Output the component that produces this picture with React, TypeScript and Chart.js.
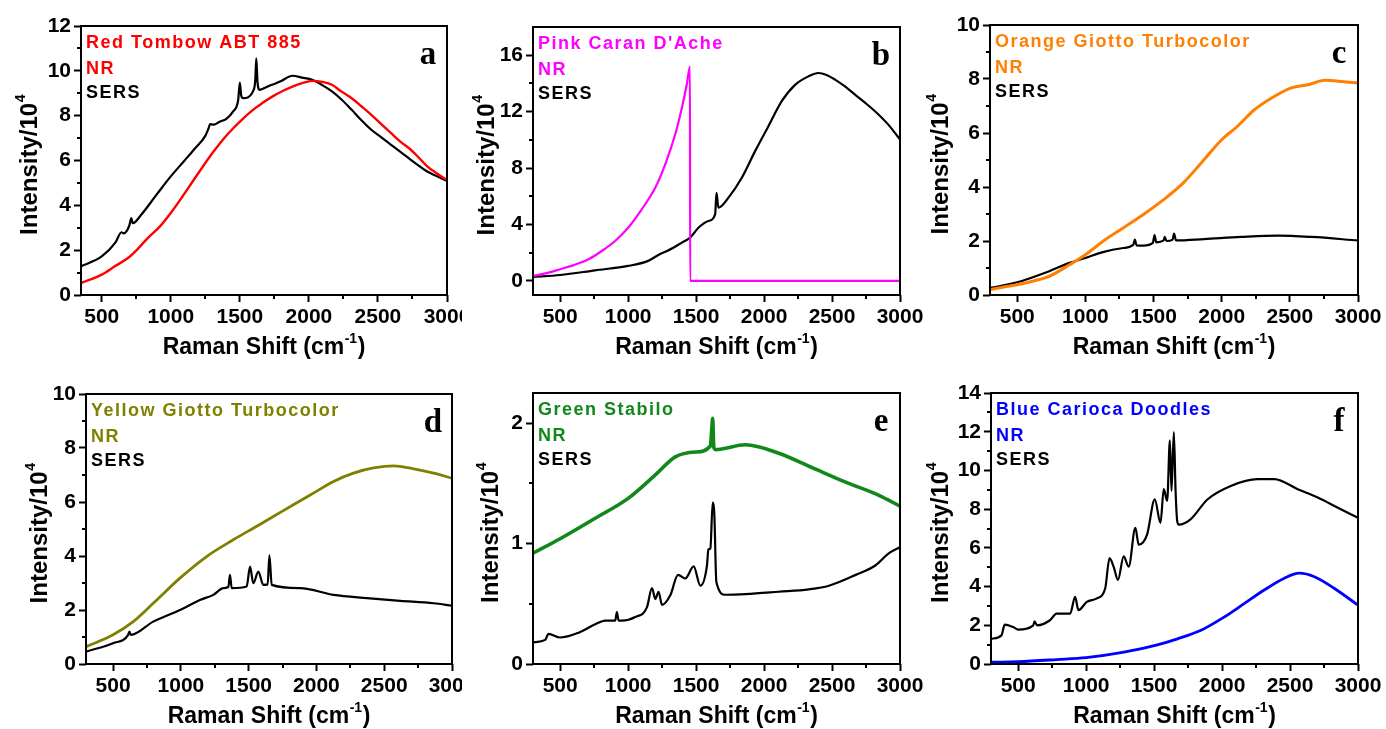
import React, { useEffect, useRef } from "react";
import { Chart, registerables } from "chart.js";

Chart.register(...registerables);

type Pt = [number, number];

// ---------------- tick values ----------------
const X_MAJOR = [500, 1000, 1500, 2000, 2500, 3000];
const X_MINOR = [750, 1250, 1750, 2250, 2750];
const Y12_MAJOR = [0, 2, 4, 6, 8, 10, 12];
const Y12_MINOR = [1, 3, 5, 7, 9, 11];
const Y16_MAJOR = [0, 4, 8, 12, 16];
const Y16_MINOR = [2, 6, 10, 14];
const Y10_MAJOR = [0, 2, 4, 6, 8, 10];
const Y10_MINOR = [1, 3, 5, 7, 9];
const Y2_MAJOR = [0, 1, 2];
const Y2_MINOR = [0.5, 1.5];
const Y14_MAJOR = [0, 2, 4, 6, 8, 10, 12, 14];
const Y14_MINOR = [1, 3, 5, 7, 9, 11, 13];

// ---------------- labels ----------------
const PANEL_LETTERS = ["a", "b", "c", "d", "e", "f"];
const SAMPLE_NAMES = [
  "Red Tombow ABT 885",
  "Pink Caran D'Ache",
  "Orange Giotto Turbocolor",
  "Yellow Giotto Turbocolor",
  "Green Stabilo",
  "Blue Carioca Doodles",
];
const NR_LABEL = "NR";
const SERS_LABEL = "SERS";

// ---------------- series (Raman shift cm-1, intensity/10^4) ----------------
const A_NR: Pt[] = [
  [350, 0.53], [500, 0.91], [600, 1.3], [690, 1.65], [760, 2.05], [833, 2.54], [920, 3.05],
  [1000, 3.66], [1080, 4.35], [1167, 5.14], [1240, 5.8], [1310, 6.4], [1380, 6.95],
  [1452, 7.44], [1520, 7.85], [1595, 8.26], [1660, 8.55], [1738, 8.86], [1810, 9.1],
  [1881, 9.3], [1950, 9.45], [2024, 9.55], [2100, 9.5], [2167, 9.38], [2230, 9.1],
  [2310, 8.78], [2380, 8.42], [2452, 8.04], [2520, 7.65], [2595, 7.22], [2660, 6.85],
  [2738, 6.48], [2800, 6.1], [2857, 5.74], [2920, 5.45], [3000, 5.12],
];
const A_SERS: Pt[] = [
  [350, 1.28], [500, 1.72], [600, 2.35], [643, 2.8], [660, 2.75], [700, 3.1], [714, 3.43],
  [725, 3.2], [786, 3.58], [900, 4.5], [1000, 5.29], [1100, 6.0], [1167, 6.48], [1250, 7.1],
  [1274, 7.44], [1285, 7.62], [1310, 7.6], [1357, 7.74], [1400, 7.85], [1452, 8.19],
  [1488, 8.7], [1500, 9.48], [1510, 8.9], [1524, 8.78], [1600, 9.15], [1612, 9.6],
  [1619, 10.56], [1628, 9.5], [1643, 9.15], [1690, 9.27], [1800, 9.55], [1881, 9.78],
  [1950, 9.7], [2024, 9.6], [2100, 9.35], [2167, 9.08], [2240, 8.7], [2310, 8.26],
  [2380, 7.8], [2452, 7.37], [2520, 7.05], [2595, 6.7], [2670, 6.35], [2738, 6.03],
  [2800, 5.75], [2857, 5.51], [2920, 5.32], [3000, 5.08],
];
const B_NR: Pt[] = [
  [300, 0.35], [400, 0.55], [500, 0.83], [600, 1.12], [708, 1.53], [806, 2.12], [904, 2.83],
  [1000, 3.77], [1100, 5.07], [1199, 6.6], [1272, 8.25], [1346, 10.38], [1395, 12.26],
  [1431, 13.9], [1455, 15.2], [1456, 0], [3000, 0],
];
const B_SERS: Pt[] = [
  [300, 0.28], [500, 0.42], [757, 0.75], [1000, 1.06], [1147, 1.42], [1223, 1.84],
  [1297, 2.17], [1395, 2.71], [1456, 3.07], [1517, 3.77], [1590, 4.25], [1640, 4.72],
  [1650, 6.25], [1664, 5.19], [1738, 5.9], [1836, 7.31], [1934, 9.2], [2032, 10.97],
  [2130, 12.74], [2228, 13.9], [2326, 14.5], [2400, 14.74], [2460, 14.6], [2522, 14.27],
  [2600, 13.75], [2669, 13.2], [2740, 12.65], [2816, 12.03], [2914, 11.08], [3000, 10.02],
];
const C_NR: Pt[] = [
  [300, 0.2], [400, 0.3], [500, 0.38], [620, 0.52], [734, 0.69], [883, 1.12], [1000, 1.49],
  [1129, 1.99], [1277, 2.48], [1425, 2.98], [1574, 3.53], [1722, 4.17], [1870, 5.01],
  [2000, 5.75], [2116, 6.25], [2240, 6.86], [2388, 7.36], [2511, 7.67], [2635, 7.79],
  [2758, 7.95], [2882, 7.91], [3000, 7.85],
];
const C_SERS: Pt[] = [
  [300, 0.26], [500, 0.47], [734, 0.88], [883, 1.19], [1000, 1.37], [1129, 1.59],
  [1277, 1.74], [1351, 1.86], [1363, 2.05], [1375, 1.84], [1425, 1.83], [1495, 1.93],
  [1507, 2.22], [1520, 1.95], [1574, 2.02], [1582, 2.15], [1595, 2.0], [1640, 2.05],
  [1650, 2.27], [1665, 2.02], [1870, 2.07], [2141, 2.15], [2413, 2.2], [2660, 2.15],
  [3000, 2.02],
];
const D_NR: Pt[] = [
  [300, 0.64], [500, 1.08], [648, 1.57], [796, 2.25], [993, 3.18], [1190, 3.98],
  [1387, 4.6], [1534, 5.03], [1682, 5.46], [1830, 5.9], [1978, 6.33], [2126, 6.76],
  [2273, 7.07], [2421, 7.26], [2569, 7.34], [2717, 7.23], [2865, 7.07], [3000, 6.88],
];
const D_SERS: Pt[] = [
  [300, 0.46], [500, 0.77], [611, 1.08], [620, 1.2], [630, 1.08], [796, 1.57], [993, 2.0],
  [1140, 2.37], [1239, 2.56], [1313, 2.81], [1350, 2.85], [1362, 3.3], [1375, 2.81],
  [1485, 2.87], [1510, 3.61], [1534, 2.99], [1571, 3.42], [1608, 2.93], [1640, 2.95],
  [1653, 4.02], [1670, 2.93], [1879, 2.81], [2126, 2.56], [2372, 2.44], [2618, 2.34],
  [2865, 2.25], [3000, 2.16],
];
const E_NR: Pt[] = [
  [300, 0.92], [500, 1.04], [758, 1.21], [1000, 1.375], [1200, 1.57], [1347, 1.72],
  [1495, 1.76], [1605, 1.81], [1615, 1.95], [1622, 2.04], [1630, 1.8], [1642, 1.78],
  [1863, 1.82], [2108, 1.75], [2354, 1.63], [2600, 1.51], [2845, 1.4], [3000, 1.31],
];
const E_SERS: Pt[] = [
  [300, 0.18], [390, 0.2], [414, 0.25], [500, 0.22], [635, 0.26], [758, 0.33], [832, 0.36],
  [905, 0.36], [917, 0.43], [930, 0.36], [954, 0.36], [1052, 0.39], [1138, 0.47],
  [1175, 0.63], [1200, 0.54], [1224, 0.6], [1249, 0.49], [1310, 0.57], [1367, 0.74],
  [1420, 0.71], [1482, 0.81], [1531, 0.65], [1580, 0.82], [1590, 0.95], [1605, 0.96],
  [1622, 1.34], [1634, 1.24], [1649, 0.68], [1716, 0.575], [1863, 0.58], [2108, 0.6],
  [2329, 0.62], [2477, 0.65], [2674, 0.74], [2821, 0.82], [2919, 0.92], [3000, 0.97],
];
const F_NR: Pt[] = [
  [300, 0.09], [500, 0.12], [783, 0.23], [1000, 0.33], [1278, 0.61], [1524, 0.99],
  [1672, 1.3], [1845, 1.74], [2017, 2.43], [2165, 3.13], [2310, 3.82], [2458, 4.43],
  [2568, 4.69], [2679, 4.51], [2827, 3.9], [3000, 3.04],
];
const F_SERS: Pt[] = [
  [300, 1.3], [377, 1.48], [401, 2.03], [463, 1.91], [500, 1.78], [611, 2.0], [620, 2.2],
  [640, 2.0], [734, 2.26], [783, 2.6], [882, 2.6], [919, 3.47], [943, 2.78], [1005, 3.21],
  [1079, 3.39], [1140, 3.9], [1172, 5.47], [1202, 5.03], [1234, 4.34], [1276, 5.56],
  [1313, 5.03], [1362, 7.03], [1387, 6.16], [1448, 6.68], [1505, 8.5], [1547, 7.29],
  [1571, 9.03], [1596, 8.42], [1616, 11.55], [1628, 8.94], [1645, 11.98], [1658, 8.94],
  [1670, 7.38], [1682, 7.2], [1768, 7.47], [1892, 8.5], [2064, 9.2], [2261, 9.55],
  [2384, 9.55], [2557, 9.03], [2704, 8.6], [2852, 8.07], [3000, 7.55],
];

// ---------------- panel layout / style ----------------
type Panel = {
  letter: string; name: string; color: string; nrWidth: number;
  nr: Pt[]; sers: Pt[];
  xMin: number; yMin: number; yMax: number;
  yMajor: number[]; yMinor: number[];
  cx: number; cy: number; // canvas origin
  plot: { l: number; t: number; r: number; b: number };
  yTitleOff: number;
};

const PANELS: Panel[] = [
  { letter: PANEL_LETTERS[0], name: SAMPLE_NAMES[0], color: "#ff0000", nrWidth: 2.4, nr: A_NR, sers: A_SERS,
    xMin: 350, yMin: 0, yMax: 12, yMajor: Y12_MAJOR, yMinor: Y12_MINOR,
    cx: 0, cy: 0, plot: { l: 81, t: 26, r: 447, b: 295 }, yTitleOff: 51 },
  { letter: PANEL_LETTERS[1], name: SAMPLE_NAMES[1], color: "#ff00ff", nrWidth: 2.2, nr: B_NR, sers: B_SERS,
    xMin: 300, yMin: -1, yMax: 18, yMajor: Y16_MAJOR, yMinor: Y16_MINOR,
    cx: 462, cy: 0, plot: { l: 533, t: 27, r: 900, b: 295 }, yTitleOff: 46 },
  { letter: PANEL_LETTERS[2], name: SAMPLE_NAMES[2], color: "#ff8000", nrWidth: 3, nr: C_NR, sers: C_SERS,
    xMin: 300, yMin: 0, yMax: 10, yMajor: Y10_MAJOR, yMinor: Y10_MINOR,
    cx: 924, cy: 0, plot: { l: 990, t: 25, r: 1358, b: 295 }, yTitleOff: 49 },
  { letter: PANEL_LETTERS[3], name: SAMPLE_NAMES[3], color: "#808000", nrWidth: 2.8, nr: D_NR, sers: D_SERS,
    xMin: 300, yMin: 0, yMax: 10, yMajor: Y10_MAJOR, yMinor: Y10_MINOR,
    cx: 0, cy: 365, plot: { l: 86, t: 394, r: 452, b: 664 }, yTitleOff: 46 },
  { letter: PANEL_LETTERS[4], name: SAMPLE_NAMES[4], color: "#11881a", nrWidth: 3.6, nr: E_NR, sers: E_SERS,
    xMin: 300, yMin: 0, yMax: 2.25, yMajor: Y2_MAJOR, yMinor: Y2_MINOR,
    cx: 462, cy: 365, plot: { l: 533, t: 393, r: 900, b: 664 }, yTitleOff: 42 },
  { letter: PANEL_LETTERS[5], name: SAMPLE_NAMES[5], color: "#0000ff", nrWidth: 2.8, nr: F_NR, sers: F_SERS,
    xMin: 300, yMin: 0, yMax: 14, yMajor: Y14_MAJOR, yMinor: Y14_MINOR,
    cx: 924, cy: 365, plot: { l: 991, t: 393, r: 1358, b: 664 }, yTitleOff: 50 },
];

const CW = 462;
const CH = 364;
const SANS = "'Liberation Sans', Arial, sans-serif";
const SERIF = "'Liberation Serif', 'Times New Roman', serif";

function drawWithSup(ctx: CanvasRenderingContext2D, main: string, sup: string, tail: string,
  x: number, y: number, size: number) {
  const mainFont = `bold ${size}px ${SANS}`;
  const supFont = `bold ${Math.round(size * 0.6)}px ${SANS}`;
  ctx.font = mainFont;
  const w1 = ctx.measureText(main).width;
  const w3 = ctx.measureText(tail).width;
  ctx.font = supFont;
  const w2 = ctx.measureText(sup).width;
  const total = w1 + w2 + w3 + 1;
  let cx = x - total / 2;
  ctx.textAlign = "left";
  ctx.textBaseline = "middle";
  ctx.font = mainFont;
  ctx.fillText(main, cx, y);
  cx += w1 + 0.5;
  ctx.font = supFont;
  ctx.fillText(sup, cx, y - size * 0.38);
  cx += w2 + 0.5;
  ctx.font = mainFont;
  if (tail) ctx.fillText(tail, cx, y);
}

function decoPlugin(p: Panel) {
  return {
    id: "panelDeco",
    afterDatasetsDraw(chart: any) {
      const { ctx, chartArea: ca, scales } = chart;
      const xs = scales.x;
      const ys = scales.y;
      ctx.save();
      ctx.strokeStyle = "#000";
      ctx.lineWidth = 2;
      ctx.beginPath();
      for (const v of X_MINOR) {
        if (v < p.xMin) continue;
        const px = Math.round(xs.getPixelForValue(v));
        ctx.moveTo(px, ca.bottom);
        ctx.lineTo(px, ca.bottom + 4);
      }
      for (const v of p.yMinor) {
        const py = Math.round(ys.getPixelForValue(v));
        ctx.moveTo(ca.left, py);
        ctx.lineTo(ca.left - 4, py);
      }
      ctx.stroke();
      ctx.lineWidth = 2;
      ctx.strokeRect(ca.left, ca.top, ca.right - ca.left, ca.bottom - ca.top);

      // in-plot labels
      ctx.textAlign = "left";
      ctx.textBaseline = "middle";
      ctx.font = `bold 18px ${SANS}`;
      (ctx as any).letterSpacing = "1.5px";
      ctx.fillStyle = p.color;
      ctx.fillText(p.name, ca.left + 5, ca.top + 17);
      ctx.fillText(NR_LABEL, ca.left + 5, ca.top + 43);
      ctx.fillStyle = "#000";
      ctx.fillText(SERS_LABEL, ca.left + 5, ca.top + 67);
      (ctx as any).letterSpacing = "0px";

      // panel letter
      ctx.font = `bold 33px ${SERIF}`;
      ctx.textAlign = "center";
      ctx.fillText(p.letter, ca.right - 19, ca.top + 29);

      // axis titles
      ctx.fillStyle = "#000";
      drawWithSup(ctx, "Raman Shift (cm", "-1", ")", (ca.left + ca.right) / 2, ca.bottom + 53, 23);
      ctx.save();
      ctx.translate(ca.left - p.yTitleOff, (ca.top + ca.bottom) / 2 + 4);
      ctx.rotate(-Math.PI / 2);
      drawWithSup(ctx, "Intensity/10", "4", "", 0, 0, 24);
      ctx.restore();
      ctx.restore();
    },
  };
}

function PanelChart({ p }: { p: Panel }) {
  const ref = useRef<HTMLCanvasElement>(null);
  useEffect(() => {
    if (!ref.current) return;
    const yW = p.plot.l - p.cx;
    const padTop = p.plot.t - p.cy;
    const padRight = p.cx + CW - p.plot.r;
    const xH = p.cy + CH - p.plot.b;
    const tickFont = { family: SANS, size: 21, weight: "bold" as const };
    const chart = new Chart(ref.current, {
      type: "line",
      data: {
        datasets: [
          {
            label: NR_LABEL,
            data: p.nr.map(([x, y]) => ({ x, y })),
            borderColor: p.color,
            borderWidth: p.nrWidth,
            pointRadius: 0,
            cubicInterpolationMode: "monotone",
            fill: false,
          },
          {
            label: SERS_LABEL,
            data: p.sers.map(([x, y]) => ({ x, y })),
            borderColor: "#000",
            borderWidth: 2.2,
            pointRadius: 0,
            cubicInterpolationMode: "monotone",
            fill: false,
          },
        ],
      },
      options: {
        animation: false,
        responsive: false,
        devicePixelRatio: 1,
        layout: { autoPadding: false, padding: { top: padTop, right: padRight, left: 0, bottom: 0 } },
        plugins: { legend: { display: false }, tooltip: { enabled: false }, title: { display: false } },
        scales: {
          x: {
            type: "linear",
            min: p.xMin,
            max: 3000,
            border: { display: false },
            grid: { display: true, drawOnChartArea: false, drawTicks: true, tickLength: 7, tickWidth: 2, tickColor: "#000" },
            ticks: {
              autoSkip: false, maxRotation: 0, padding: 3, color: "#000", font: tickFont,
              callback: (v: any) => String(v),
            },
            afterBuildTicks: (s: any) => { s.ticks = X_MAJOR.map((v) => ({ value: v })); },
            afterFit: (s: any) => { s.height = xH; s.paddingLeft = 0; s.paddingRight = 0; },
          },
          y: {
            type: "linear",
            min: p.yMin,
            max: p.yMax,
            border: { display: false },
            grid: { display: true, drawOnChartArea: false, drawTicks: true, tickLength: 7, tickWidth: 2, tickColor: "#000" },
            ticks: {
              autoSkip: false, padding: 3, color: "#000", font: tickFont,
              callback: (v: any) => String(v),
            },
            afterBuildTicks: (s: any) => { s.ticks = p.yMajor.map((v) => ({ value: v })); },
            afterFit: (s: any) => { s.width = yW; s.paddingTop = 0; s.paddingBottom = 0; },
          },
        },
      } as any,
      plugins: [decoPlugin(p)],
    });
    return () => chart.destroy();
  }, [p]);
  return (
    <canvas
      ref={ref}
      width={CW}
      height={CH}
      style={{ position: "absolute", left: p.cx, top: p.cy, width: CW, height: CH }}
    />
  );
}

export default function App() {
  return (
    <div style={{ position: "absolute", left: 0, top: 0, width: 1386, height: 729, background: "#fff", overflow: "hidden" }}>
      {PANELS.map((p) => (
        <PanelChart key={p.letter} p={p} />
      ))}
    </div>
  );
}
